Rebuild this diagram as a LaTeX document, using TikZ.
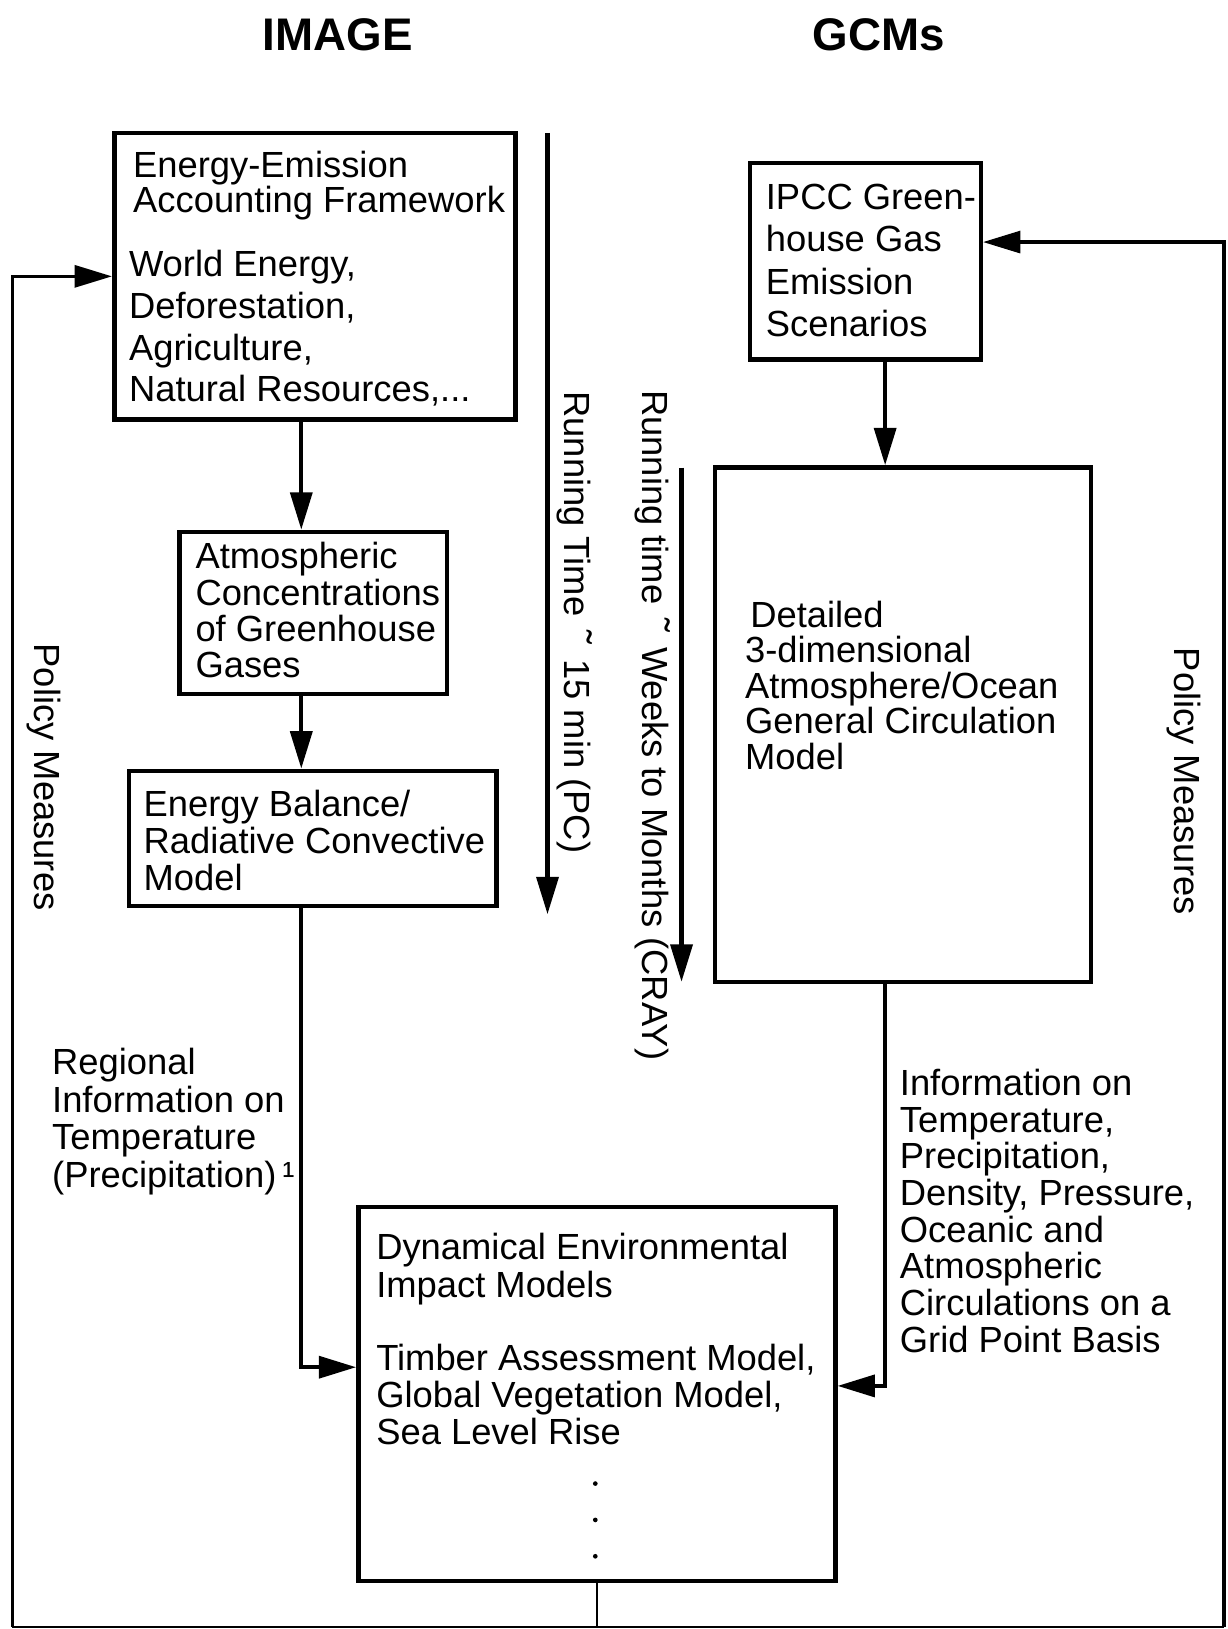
\documentclass[tikz,border=0pt]{standalone}
\usepackage{fontspec}
\setmainfont{Liberation Sans}
\usetikzlibrary{arrows.meta}
\newcommand{\apx}{\hspace{14pt}\raisebox{-2pt}{\fontsize{40}{40}\selectfont ˜}\hspace{14pt}}
\begin{document}
\begin{tikzpicture}[x=1pt,y=-1pt,
  box/.style={draw,line width=4.3pt,rectangle,inner sep=0pt},
  txt/.style={anchor=north west,inner sep=0pt,align=left,font=\fontsize{35}{35}\selectfont},
  thin/.style={line width=2.6pt},
  arr/.style={line width=4pt,-{Triangle[length=36pt,width=21pt]}},
  rot/.style={rotate=-90,inner sep=0pt,font=\fontsize{35}{35}\selectfont},
  ttl/.style={font=\fontsize{44}{44}\selectfont\bfseries,inner sep=0pt},
  dot/.style={circle,fill,inner sep=0pt,minimum size=4.5pt}]
\useasboundingbox (0,0) rectangle (1182,1568);

% titles
\node[ttl] (tImage) at (325,33) {IMAGE};
\node[ttl] (tGcm) at (846,33) {GCMs};

% boxes
\node[box,minimum width=386pt,minimum height=276pt] (box1) at (303,266) {};
\node[box,minimum width=257pt,minimum height=156pt] (box2) at (301.5,590) {};
\node[box,minimum width=354pt,minimum height=130pt] (box3) at (301,807) {};
\node[box,minimum width=222pt,minimum height=189pt] (box4) at (833,251.5) {};
\node[box,minimum width=362pt,minimum height=495pt] (box6) at (869,697.5) {};
\node[box,minimum width=459pt,minimum height=360pt] (box5) at (574.5,1342) {};

% box texts
\node[txt,font=\fontsize{35}{34}\selectfont] (t1a) at (128,145) {Energy-Emission\\Accounting Framework};
\node[txt,font=\fontsize{35}{40}\selectfont] (t1b) at (124,241) {World Energy,\\Deforestation,\\Agriculture,\\Natural Resources,...};
\node[txt] (t2) at (188,522) {Atmospheric\\Concentrations\\of Greenhouse\\Gases};
\node[txt,font=\fontsize{35}{36}\selectfont] (t3) at (138,760) {Energy Balance/\\Radiative Convective\\Model};
\node[txt,font=\fontsize{35}{40.7}\selectfont] (t4) at (737,177) {IPCC Green-\\house Gas\\Emission\\Scenarios};
\node[txt,font=\fontsize{35}{34.3}\selectfont] (t6) at (717,578) {\hspace{5pt}Detailed\\3-dimensional\\Atmosphere/Ocean\\General Circulation\\Model};
\node[txt,font=\fontsize{35}{36}\selectfont] (t5a) at (362,1187) {Dynamical Environmental\\Impact Models};
\node[txt,font=\fontsize{35}{35.5}\selectfont] (t5b) at (362,1294) {Timber Assessment Model,\\Global Vegetation Model,\\Sea Level Rise};
\node[dot] (d1) at (573,1428) {};
\node[dot] (d2) at (573,1463) {};
\node[dot] (d3) at (573,1498) {};

% side labels
\node[txt,font=\fontsize{35}{36}\selectfont] (lblL) at (50,1009) {Regional\\Information on\\Temperature\\(Precipitation)\,¹};
\node[txt,font=\fontsize{35}{35.3}\selectfont] (lblR) at (866,1029) {Information on\\Temperature,\\Precipitation,\\Density, Pressure,\\Oceanic and\\Atmospheric\\Circulations on a\\Grid Point Basis};

\node[rot] (run1) at (553,599) {Running Time\apx 15 min (PC)};
\node[rot] (run2) at (628,698) {Running time\apx Weeks to Months (CRAY)};
\node[rot] (polL) at (42,748) {Policy Measures};
\node[rot] (polR) at (1140,752) {Policy Measures};

% helper coordinates
\coordinate (colL) at (290,0);
\coordinate (colR) at (852,0);
\coordinate (BL) at (12,1566);
\coordinate (BR) at (1178,1566);
\coordinate (ts1) at (527,128);
\coordinate (te1) at (527,880);
\coordinate (ts2) at (656,450);
\coordinate (te2) at (656,945);

% connectors
\draw[arr] (box1.south -| colL) -- (box2.north -| colL);
\draw[arr] (box2.south -| colL) -- (box3.north -| colL);
\draw[arr] (box3.south -| colL) |- ([yshift=26pt]box5.west);
\draw[arr] (box4.south -| colR) -- (box6.north -| colR);
\draw[arr] (box6.south -| colR) |- ([yshift=8pt]box5.east);

% feedback loop
\draw[thin] (box5.south) -- (box5.south |- BL);
\draw[thin] (BL) -- (BR);
\draw[arr,line width=3.5pt] (BL) |- (box1.west);
\draw[arr,line width=3.5pt] (BR) |- ([yshift=18.5pt]box4.east);

% running time arrows
\draw[arr] (ts1) -- (te1);
\draw[arr] (ts2) -- (te2);
\end{tikzpicture}
\end{document}
